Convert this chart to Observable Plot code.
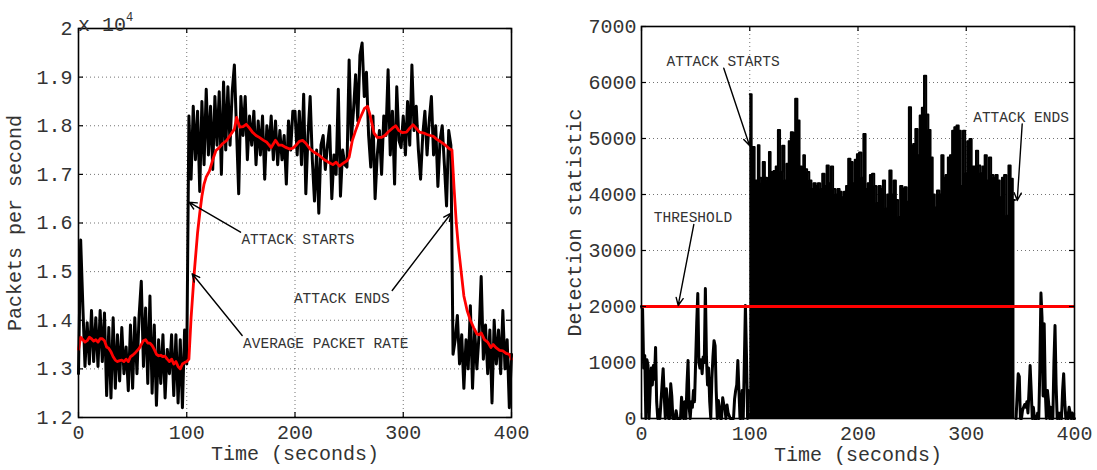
<!DOCTYPE html>
<html>
<head>
<meta charset="utf-8">
<script src="https://cdn.jsdelivr.net/npm/d3@7"></script>
<script src="https://cdn.jsdelivr.net/npm/@observablehq/plot@0.6"></script>
<style>
  html, body { margin: 0; padding: 0; background: #fff; }
  #wrap { position: relative; width: 1097px; height: 470px; font-family: 'Liberation Mono', monospace; }
  #left { position: absolute; left: 0; top: 0; }
  #right { position: absolute; left: 560px; top: 0; }
  #exp { position: absolute; left: 78px; top: 6px; font-size: 20px; color: #333; white-space: pre; line-height: 28px; }
  #exp sup { font-size: 12px; position: relative; top: -2px; }
  svg text { font-family: 'Liberation Mono', monospace; }
</style>
</head>
<body>
<div id="wrap">
  <div id="left"></div>
  <div id="right"></div>
  <div id="exp">x 10<sup>4</sup></div>
</div>
<script>
// ---------------- DATA ----------------
const xTicks = [0, 100, 200, 300, 400];
const leftYTicks = [12000, 13000, 14000, 15000, 16000, 17000, 18000, 19000, 20000];
const leftYTickLabels = ["1.2", "1.3", "1.4", "1.5", "1.6", "1.7", "1.8", "1.9", "2"];
const rightYTicks = [0, 1000, 2000, 3000, 4000, 5000, 6000, 7000];
const rightYTickLabels = ["0", "1000", "2000", "3000", "4000", "5000", "6000", "7000"];

// Left: packets per second, one reading every 2 s from t = 0 to 400
const packetStep = 2;
const packetRate = [
  12900, 15650, 14300, 13050, 13950, 13100, 14200, 13150, 14050, 13050,
  14200, 13150, 14150, 12450, 13850, 12400, 14050, 12600, 13700, 12750,
  13850, 12900, 13450, 12550, 13900, 12600, 14050, 12900, 14100, 14800,
  13050, 14250, 12700, 14500, 12500, 13900, 12250, 13600, 12700, 13700,
  12400, 13400, 12900, 13700, 12450, 13700, 12300, 13600, 12200, 13800,
  13100, 18200, 16900, 18400, 17300, 18300, 16650, 18500, 17200, 18750,
  17400, 18400, 17100, 18600, 17600, 18700, 17000, 18900, 17500, 18800,
  17600, 18700, 19250, 17900, 16600, 18600, 17800, 18600, 17300, 18200,
  17600, 18300, 17200, 18100, 17400, 18200, 16900, 18000, 17500, 18200,
  17300, 18100, 17200, 17900, 17300, 17800, 16800, 18100, 17500, 18300,
  18300, 17400, 18300, 17200, 18650, 16600, 17800, 18600, 17300, 16450,
  17500, 16200, 17600, 17800, 17100, 17600, 18000, 16500, 17400, 17000,
  18750, 16550, 17500, 17200, 17150, 19350, 17700, 18300, 19050, 18100,
  19450, 19700, 18600, 19100, 17800, 17150, 18200, 16500, 17400, 17900,
  17000, 18200, 17800, 19150, 17400, 18300, 16800, 18800, 17700, 17550,
  18200, 17400, 18500, 17600, 19250, 17900, 18400, 17500, 16900, 17800,
  18300, 17400, 18100, 18600, 17400, 18000, 16750, 17700, 18000, 17200,
  16350, 17900, 17600,
  13300, 13600, 14100, 13100, 13700, 12600, 13600, 13000, 14300, 12600,
  13800, 13000, 13700, 14900, 13200, 13900, 12900, 13800, 12300, 14000,
  13100, 13800, 12900, 14200, 13000, 13600, 12200,
  13300
];

// Left: average packet rate (red)
const avgTime = [
  0, 2, 4, 6, 8, 10, 12, 14, 16, 18, 20, 22, 24, 26, 28, 30, 32, 34, 36, 38,
  40, 42, 44, 46, 48, 50, 52, 54, 56, 58, 60, 62, 64, 66, 68, 70, 72, 74, 76, 78,
  80, 82, 84, 86, 88, 90, 92, 94, 96, 98, 100, 102, 104, 107, 110, 112, 114, 116, 118, 121,
  124, 127, 130, 133, 137, 140, 144, 146, 149, 152, 155, 158, 161, 164, 167, 171, 174, 178, 182, 185,
  188, 191, 195, 198, 201, 204, 207, 210, 214, 218, 222, 227, 231, 235, 238, 241, 244, 248, 250, 253,
  256, 260, 264, 267, 269, 271, 273, 276, 280, 283, 286, 290, 293, 296, 299, 303, 306, 309, 312, 315,
  319, 322, 325, 328, 331, 334, 337, 340, 343, 345, 347, 349, 351, 354, 356, 359, 362, 365, 368, 370,
  372, 375, 378, 381, 383, 386, 389, 392, 395, 398, 400
];
const avgRate = [
  13400, 13650, 13600, 13550, 13580, 13650, 13620, 13570, 13600, 13550, 13620, 13620, 13580, 13450, 13420, 13350, 13250, 13180, 13150, 13170,
  13180, 13150, 13200, 13150, 13250, 13280, 13320, 13370, 13420, 13500, 13580, 13600, 13530, 13530, 13480, 13400, 13300, 13270, 13280, 13250,
  13260, 13200, 13150, 13200, 13100, 13150, 13050, 13000, 13100, 13130, 13150, 13200, 14050, 15000, 15800, 16200, 16550, 16800, 16950, 17070,
  17300, 17490, 17550, 17630, 17700, 17800, 17930, 18170, 17970, 17980, 18030, 17950, 17860, 17800, 17760, 17700, 17660, 17550, 17700, 17600,
  17600, 17560, 17520, 17540, 17600, 17680, 17700, 17640, 17520, 17450, 17400, 17300, 17250, 17200, 17250, 17170, 17220, 17280, 17350, 17700,
  17900, 18150, 18350, 18400, 18250, 18050, 17850, 17760, 17760, 17800, 17870, 17950, 18000, 17900, 17860, 17870, 17950, 18020, 17950, 17870,
  17850, 17820, 17800, 17780, 17720, 17680, 17630, 17580, 17520, 17500, 16700, 16000, 15500, 14900, 14500, 14200, 14000, 13850, 13720, 13700,
  13740, 13600, 13550, 13440, 13500, 13430, 13380, 13370, 13320, 13300, 13200
];

// Right: detection statistic before the attack (one reading per second, t = 0..99)
const preStart = 0;
const detectionBefore = [
  2000, 1950, 900, 1125, 0, 1050, 950, 0, 500, 900,
  600, 945, 700, 1270, 300, 0, 150, 0, 300, 600,
  890, 400, 0, 530, 300, 0, 0, 620, 400, 0,
  0, 0, 140, 0, 0, 0, 0, 380, 100, 0,
  300, 0, 600, 1035, 200, 0, 300, 200, 500, 300,
  1000, 1700, 2230, 1000, 900, 1050, 800, 1100, 1000, 2320,
  1100, 600, 900, 300, 0, 700, 1100, 1390, 1300, 500,
  0, 320, 200, 0, 0, 370, 250, 200, 0, 240,
  100, 50, 0, 0, 0, 0, 350, 500, 600, 1035,
  500, 0, 0, 500, 0, 1000, 2020, 1100, 0, 500
];
// Right: peak envelope of the detection statistic during the attack
const attackTime = [
  100, 101.5, 102, 104, 105, 107, 108, 110, 111, 113, 115, 117, 118.5, 120, 121, 123, 125, 127, 129, 131,
  133, 135, 137, 139, 141, 143, 145, 147, 149, 150, 152, 154, 156, 158, 160, 162, 164, 166, 168, 170,
  172, 174, 176, 178, 180, 182, 184, 186, 188, 190, 192, 194, 196, 198, 200, 202, 204, 206, 208, 210,
  212, 214, 216, 218, 220, 222, 224, 226, 228, 230, 232, 234, 236, 238, 240, 242, 244, 246, 248, 250,
  252, 254, 256, 258, 260, 262, 264, 266, 268, 270, 272, 274, 276, 278, 280, 282, 284, 286, 288, 290,
  292, 294, 296, 298, 300, 302, 304, 306, 308, 310, 312, 314, 316, 318, 320, 322, 324, 326, 328, 330,
  332, 334, 336, 338, 340, 342, 344, 345
];
const attackPeak = [
  5790, 5790, 4850, 4850, 4250, 4250, 4880, 4300, 4200, 4580, 4300, 4250, 4760, 3700, 4400, 4420, 4500, 5150, 4400, 4870,
  4250, 4550, 4950, 5110, 5100, 5710, 5320, 4500, 4480, 4700, 4450, 4400, 4250, 4100, 4200, 4150, 4200, 4100, 4370, 4150,
  4520, 4200, 4500, 4100, 4000, 4100, 4050, 3950, 4050, 4150, 4640, 4580, 4200, 4620, 4720, 4750, 4300, 5080, 4100, 4200,
  4350, 4370, 4150, 3850, 4150, 4100, 4250, 3750, 4000, 4430, 4000, 4250, 3900, 3600, 4150, 4100, 4130, 3870, 5560, 4870,
  4900, 5170, 4700, 5410, 5550, 6120, 5430, 5150, 4660, 4000, 3770, 4070, 4000, 4700, 4300, 4350, 4660, 4700, 5140, 5200,
  5230, 5140, 4150, 5140, 4380, 4950, 4990, 4500, 4500, 4780, 4520, 4380, 4500, 4700, 4250, 4660, 4350, 4300, 4350, 4250,
  3950, 4300, 4350, 3620, 4520, 4280, 3900, 3900
];
// Right: detection statistic after the attack (one reading per second, t = 346..400)
const postStart = 346;
const detectionAfter = [
  0, 400, 800, 750, 0, 0, 150, 200, 250, 200,
  300, 100, 500, 945, 500, 0, 200, 0, 0, 0,
  100, 0, 900, 2240, 1800, 400, 1690, 500, 0, 500,
  300, 0, 200, 0, 0, 1000, 1660, 600, 0, 100,
  0, 100, 0, 500, 800, 300, 0, 100, 0, 200,
  100, 0, 100, 0, 0
];
const threshold = 2000;

// Annotations (data coordinates)
const leftNotes = [
  {text: "ATTACK STARTS", x: 150.5, y: 15660, x1: 149.7, y1: 15811, x2: 102, y2: 16430},
  {text: "AVERAGE PACKET RATE", x: 152, y: 13528, x1: 151.2, y1: 13686, x2: 105, y2: 14955},
  {text: "ATTACK ENDS", x: 199, y: 14441, x1: 289.8, y1: 14612, x2: 344.3, y2: 16201}
];
const rightNotes = [
  {text: "ATTACK STARTS", x: 23.1, y: 6375, x1: 76, y1: 6255, x2: 99.8, y2: 4875},
  {text: "THRESHOLD", x: 11.4, y: 3595, x1: 48.3, y1: 3464, x2: 33.9, y2: 2018},
  {text: "ATTACK ENDS", x: 306.4, y: 5380, x1: 351.7, y1: 5262, x2: 347.1, y2: 3893}
];

// ---------------- BUILD ----------------
const packets = packetRate.map((v, i) => ({t: i * packetStep, v}));
const average = avgTime.map((t, i) => ({t, v: avgRate[i]}));
const before = detectionBefore.map((v, i) => ({t: preStart + i, v}));
const attack = attackTime.map((t, i) => ({t, v: attackPeak[i]}));
const after = detectionAfter.map((v, i) => ({t: postStart + i, v}));

const FONT = "Liberation Mono";
const gridStyle = {stroke: "#000", strokeOpacity: 0.55, strokeDasharray: "1,3", strokeWidth: 1};

function frameMarks(plotW, plotH, yTicks) {
  return [
    Plot.tickX(xTicks, {x: d => d, insetTop: plotH - 5, stroke: "black", strokeWidth: 1.2}),
    Plot.tickX(xTicks, {x: d => d, insetBottom: plotH - 5, stroke: "black", strokeWidth: 1.2}),
    Plot.tickY(yTicks, {y: d => d, insetRight: plotW - 5, stroke: "black", strokeWidth: 1.2}),
    Plot.tickY(yTicks, {y: d => d, insetLeft: plotW - 5, stroke: "black", strokeWidth: 1.2}),
    Plot.frame({stroke: "black", strokeWidth: 1.6})
  ];
}

function noteMarks(notes) {
  return [
    Plot.arrow(notes, {x1: "x1", y1: "y1", x2: "x2", y2: "y2", stroke: "black", strokeWidth: 1.4, headLength: 9, headAngle: 50}),
    Plot.text(notes, {x: "x", y: "y", text: "text", textAnchor: "start", lineAnchor: "middle", fontSize: 14.5, fill: "#333"})
  ];
}

// Left chart
{
  const W = 540, H = 470, mL = 78, mR = 29, mT = 28, mB = 53;
  const chart = Plot.plot({
    width: W, height: H, marginLeft: mL, marginRight: mR, marginTop: mT, marginBottom: mB,
    style: {fontFamily: FONT, fontSize: "20px", color: "#333", background: "white", overflow: "visible"},
    x: {domain: [0, 400]},
    y: {domain: [12000, 20000]},
    marks: [
      Plot.gridX(xTicks, gridStyle),
      Plot.gridY(leftYTicks, gridStyle),
      Plot.line(packets, {x: "t", y: "v", stroke: "black", strokeWidth: 3}),
      Plot.line(average, {x: "t", y: "v", stroke: "#ff0000", strokeWidth: 2.8}),
      Plot.axisX(xTicks, {tickSize: 0, tickPadding: 7, label: "Time (seconds)", labelAnchor: "center", labelOffset: 42, labelArrow: "none", fontSize: 20}),
      Plot.axisY(leftYTicks, {tickSize: 0, tickPadding: 6, tickFormat: d => leftYTickLabels[leftYTicks.indexOf(d)], label: "Packets per second", labelAnchor: "center", labelOffset: 72, labelArrow: "none", fontSize: 20}),
      ...frameMarks(W - mL - mR, H - mT - mB, leftYTicks),
      ...noteMarks(leftNotes)
    ]
  });
  document.getElementById("left").appendChild(chart);
}

// Right chart
{
  const W = 537, H = 470, mL = 81, mR = 23, mT = 26, mB = 52;
  const chart = Plot.plot({
    width: W, height: H, marginLeft: mL, marginRight: mR, marginTop: mT, marginBottom: mB,
    style: {fontFamily: FONT, fontSize: "20px", color: "#333", background: "white", overflow: "visible"},
    x: {domain: [0, 400]},
    y: {domain: [0, 7000]},
    marks: [
      Plot.gridX(xTicks, gridStyle),
      Plot.gridY(rightYTicks, gridStyle),
      Plot.line(before, {x: "t", y: "v", stroke: "black", strokeWidth: 3}),
      Plot.areaY(attack, {x: "t", y: "v", fill: "black", curve: "step"}),
      Plot.line(attack, {x: "t", y: "v", stroke: "black", strokeWidth: 2, curve: "step"}),
      Plot.line(after, {x: "t", y: "v", stroke: "black", strokeWidth: 3}),
      Plot.ruleY([threshold], {stroke: "#ff0000", strokeWidth: 3}),
      Plot.axisX(xTicks, {tickSize: 0, tickPadding: 7, label: "Time (seconds)", labelAnchor: "center", labelOffset: 42, labelArrow: "none", fontSize: 20}),
      Plot.axisY(rightYTicks, {tickSize: 0, tickPadding: 5, tickFormat: d => rightYTickLabels[rightYTicks.indexOf(d)], label: "Detection statistic", labelAnchor: "center", labelOffset: 75, labelArrow: "none", fontSize: 20}),
      ...frameMarks(W - mL - mR, H - mT - mB, rightYTicks),
      ...noteMarks(rightNotes)
    ]
  });
  document.getElementById("right").appendChild(chart);
}
</script>
</body>
</html>
